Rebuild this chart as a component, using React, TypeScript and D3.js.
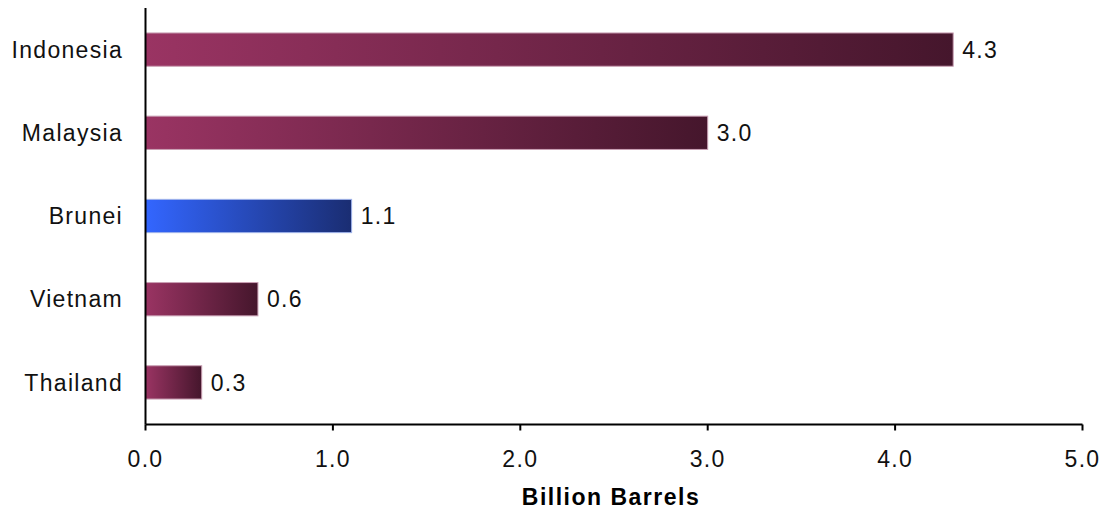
import React from "react";
import * as d3 from "d3";

const countries = ["Indonesia", "Malaysia", "Brunei", "Vietnam", "Thailand"];
const reserves = [4.31, 3.0, 1.1, 0.6, 0.3];
const valueLabels = ["4.3", "3.0", "1.1", "0.6", "0.3"];
const tickValues = [0, 1, 2, 3, 4, 5];
const highlighted = ["Brunei"];

const W = 1106;
const H = 514;
const FONT = "'Liberation Sans', Arial, sans-serif";

export default function App() {
  const x = d3.scaleLinear().domain([0, 5]).range([145.5, 1082.5]);
  const y = d3
    .scaleBand<string>()
    .domain(countries)
    .range([8, 424])
    .paddingInner(0.6)
    .paddingOuter(0.3);
  const axisY = 424.5;

  return (
    <svg
      width={W}
      height={H}
      style={{ position: "absolute", left: 0, top: 0, background: "#fff" }}
    >
      <defs>
        <linearGradient id="gPurple" x1="0" x2="1" y1="0" y2="0">
          <stop offset="0%" stopColor="#9a3463" />
          <stop offset="100%" stopColor="#45162c" />
        </linearGradient>
        <linearGradient id="gBlue" x1="0" x2="1" y1="0" y2="0">
          <stop offset="0%" stopColor="#3366ff" />
          <stop offset="100%" stopColor="#1a2d72" />
        </linearGradient>
      </defs>

      {countries.map((c, i) => {
        const hi = highlighted.includes(c);
        const y0 = y(c)!;
        const bw = y.bandwidth();
        const x1 = x(reserves[i]);
        return (
          <g key={c}>
            <rect
              x={x(0)}
              y={y0}
              width={x1 - x(0)}
              height={bw}
              fill={hi ? "url(#gBlue)" : "url(#gPurple)"}
              stroke={hi ? "#9fb3ea" : "#c99fb3"}
              strokeWidth={1}
            />
            <text
              x={x1 + 9}
              y={y0 + bw / 2}
              dy="0.36em"
              fontFamily={FONT}
              fontSize={23}
              letterSpacing={1.3}
              fill="#111"
            >
              {valueLabels[i]}
            </text>
            <text
              x={123}
              y={y0 + bw / 2}
              dy="0.36em"
              textAnchor="end"
              fontFamily={FONT}
              fontSize={23}
              letterSpacing={1.3}
              fill="#111"
            >
              {c}
            </text>
          </g>
        );
      })}

      {/* y axis line */}
      <line x1={x(0)} x2={x(0)} y1={8} y2={axisY} stroke="#000" strokeWidth={2} />
      {/* x axis */}
      <line x1={x(0)} x2={x(5)} y1={axisY} y2={axisY} stroke="#000" strokeWidth={2} />
      {tickValues.map((t) => (
        <g key={t}>
          <line x1={x(t)} x2={x(t)} y1={axisY} y2={axisY + 6} stroke="#000" strokeWidth={2} />
          <text
            x={x(t)}
            y={467}
            textAnchor="middle"
            fontFamily={FONT}
            fontSize={23}
            letterSpacing={1.3}
            fill="#111"
          >
            {t.toFixed(1)}
          </text>
        </g>
      ))}
      <text
        x={611}
        y={505}
        textAnchor="middle"
        fontFamily={FONT}
        fontSize={23}
        fontWeight="bold"
        letterSpacing={1.5}
        fill="#000"
      >
        Billion Barrels
      </text>
    </svg>
  );
}
